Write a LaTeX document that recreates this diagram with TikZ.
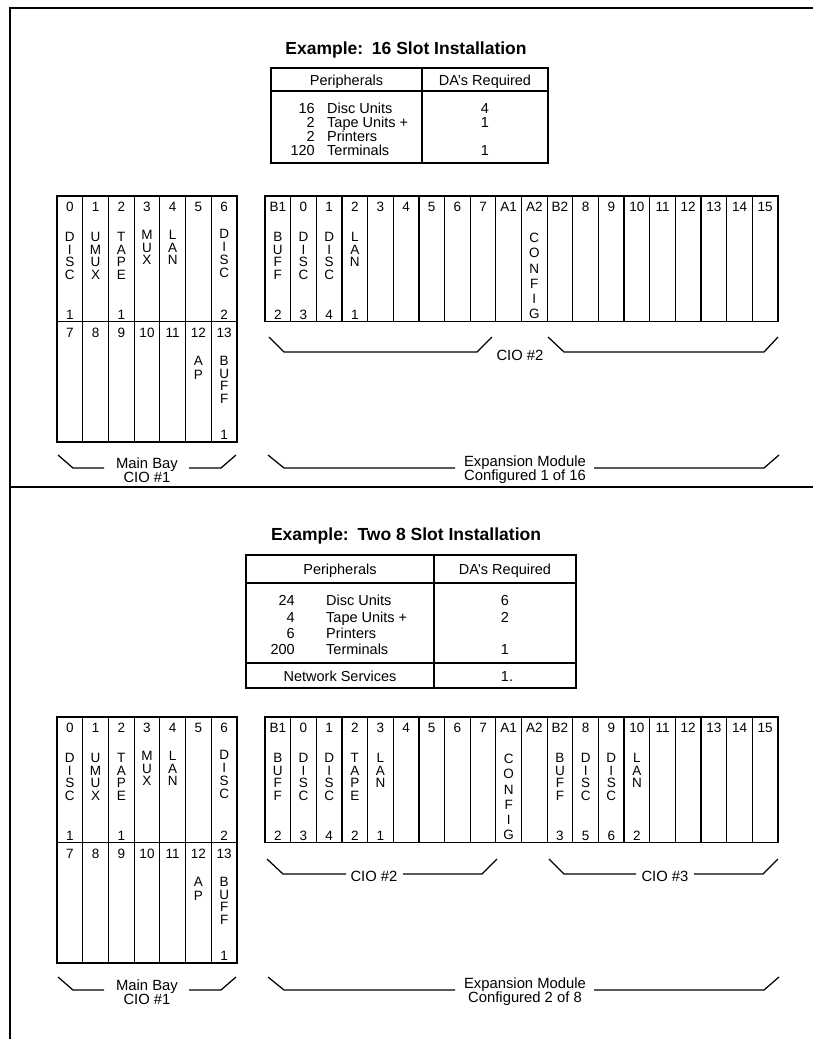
\documentclass[tikz,border=0pt]{standalone}
\usepackage{fontspec}
\setmainfont{Liberation Sans}
\newcommand\vword[5]{\foreach \l [count=\k from 0] in {#5} {\node[cell] (#1-\k) at (#2,{#3+\k*#4}) {\l};}}
\newcommand\mainbay[2]{%
  \draw[ln] (57,196+#2) rectangle (237,442+#2);
  \draw[ln] (57,321.7+#2) -- (237,321.7+#2);
  \foreach \i in {1,...,6} {\draw[ln] ({57+25.714*\i},196+#2) -- ({57+25.714*\i},442+#2);}
  \foreach \t [count=\i from 0] in {0,...,6} {\node[cell] (#1t\i) at ({69.86+25.714*\i},207+#2) {\t};}
  \foreach \t [count=\i from 0] in {7,...,13} {\node[cell] (#1u\i) at ({69.86+25.714*\i},333+#2) {\t};}
  \vword{#1a}{69.86}{237+#2}{12.6}{D,I,S,C}
  \node[cell] (#1a1) at (69.86,315+#2) {1};
  \vword{#1b}{95.57}{237+#2}{12.6}{U,M,U,X}
  \vword{#1c}{121.29}{237+#2}{12.6}{T,A,P,E}
  \node[cell] (#1c1) at (121.29,315+#2) {1};
  \vword{#1d}{147.0}{235+#2}{12.6}{M,U,X}
  \vword{#1e}{172.71}{235+#2}{12.6}{L,A,N}
  \vword{#1f}{224.14}{234+#2}{12.8}{D,I,S,C}
  \node[cell] (#1f1) at (224.14,315+#2) {2};
  \vword{#1g}{198.43}{361+#2}{13.5}{A,P}
  \vword{#1h}{224.14}{361+#2}{12.6}{B,U,F,F}
  \node[cell] (#1h1) at (224.14,435+#2) {1};
}
\newcommand\expbox[2]{%
  \draw[ln] (265,196+#2) rectangle (778,321.7+#2);
  \foreach \i in {1,...,19} {\draw[ln] ({265+25.65*\i},196+#2) -- ({265+25.65*\i},321.7+#2);}
  \foreach \t [count=\i from 0] in {B1,0,1,2,3,4,5,6,7,A1,A2,B2,8,9,10,11,12,13,14,15}
    {\node[cell] (#1t\i) at ({277.83+25.65*\i},207+#2) {\t};}
}
\begin{document}
\begin{tikzpicture}[x=1pt,y=-1pt,
  ln/.style={line width=1.25pt},
  cell/.style={inner sep=0pt, font=\fontsize{13.5}{14}\selectfont},
  tx/.style={inner sep=0pt, font=\fontsize{14.5}{15}\selectfont},
  lbl/.style={inner sep=0pt, align=center, font=\fontsize{14.8}{14}\selectfont},
  ttl/.style={inner sep=0pt, font=\bfseries\fontsize{17.5}{20}\selectfont}]
\useasboundingbox (0,0) rectangle (813,1039);
\fill[white] (0,0) rectangle (813,1039);
% frame
\draw[ln] (10,1039) -- (10,8) -- (813,8);
\draw[ln] (10,487) -- (813,487);

% ================= TOP HALF =================
\node[ttl] (title1) at (406,50) {Example:\enspace 16 Slot Installation};
\draw[ln] (271,68) rectangle (548,163);
\draw[ln] (271,91) -- (548,91);
\draw[ln] (422,68) -- (422,163);
\node[tx, anchor=base] (t1h1) at (346.5,85) {Peripherals};
\node[tx, anchor=base] (t1h2) at (485,85) {DA's Required};
\foreach \n/\w/\d/\y [count=\i] in {16/Disc Units/4/113, 2/Tape Units +/1/127, 2/Printers//141, 120/Terminals/1/155}{
  \node[tx, anchor=base east] (t1n\i) at (315,\y) {\n};
  \node[tx, anchor=base west] (t1w\i) at (327,\y) {\w};
  \node[tx, anchor=base] (t1d\i) at (485,\y) {\d};
}
\mainbay{mbA}{0}
\expbox{exA}{0}
\vword{exAb1}{277.83}{237}{12.6}{B,U,F,F}
\node[cell] (exAb1n) at (277.83,315) {2};
\vword{exAd0}{303.48}{237}{12.6}{D,I,S,C}
\node[cell] (exAd0n) at (303.48,315) {3};
\vword{exAd1}{329.13}{237}{12.6}{D,I,S,C}
\node[cell] (exAd1n) at (329.13,315) {4};
\vword{exAl2}{354.78}{237}{12.6}{L,A,N}
\node[cell] (exAl2n) at (354.78,315) {1};
\vword{exAcf}{534.33}{238}{15.2}{C,O,N,F,I,G}
% brackets
\draw[ln] (269,337) -- (284,352) -- (477,352) -- (492,337);
\node[lbl] (cio2a) at (520,355) {CIO \#2};
\draw[ln] (548,337) -- (564,352) -- (764,352) -- (778,337);
\draw[ln] (58,455) -- (73,468) -- (104,468);
\node[lbl] (mbAl) at (147,470) {Main Bay\\CIO \#1};
\draw[ln] (189,468) -- (221,468) -- (236,455);
\draw[ln] (268,455) -- (284,468) -- (455,468);
\node[lbl] (exAl) at (525,470) {Expansion Module\\Configured 1 of 16};
\draw[ln] (594,468) -- (764,468) -- (779,455);

% ================= BOTTOM HALF =================
\node[ttl] (title2) at (406,536) {Example:\enspace Two 8 Slot Installation};
\draw[ln] (246,555) rectangle (576,688);
\draw[ln] (246,583) -- (576,583);
\draw[ln] (246,663) -- (576,663);
\draw[ln] (434,555) -- (434,688);
\node[tx, anchor=base] (t2h1) at (340,574) {Peripherals};
\node[tx, anchor=base] (t2h2) at (505,574) {DA's Required};
\foreach \n/\w/\d/\y [count=\i] in {24/Disc Units/6/605, 4/Tape Units +/2/622, 6/Printers//638, 200/Terminals/1/654}{
  \node[tx, anchor=base east] (t2n\i) at (295,\y) {\n};
  \node[tx, anchor=base west] (t2w\i) at (326,\y) {\w};
  \node[tx, anchor=base] (t2d\i) at (505,\y) {\d};
}
\node[tx, anchor=base] (t2ns) at (340,681) {Network Services};
\node[tx, anchor=base] (t2nd) at (507,681) {1.};
\mainbay{mbB}{521}
\expbox{exB}{521}
\vword{exBb1}{277.83}{758}{12.6}{B,U,F,F}
\node[cell] (exBb1n) at (277.83,836) {2};
\vword{exBd0}{303.48}{758}{12.6}{D,I,S,C}
\node[cell] (exBd0n) at (303.48,836) {3};
\vword{exBd1}{329.13}{758}{12.6}{D,I,S,C}
\node[cell] (exBd1n) at (329.13,836) {4};
\vword{exBtp}{354.78}{758}{12.6}{T,A,P,E}
\node[cell] (exBtpn) at (354.78,836) {2};
\vword{exBl3}{380.43}{758}{12.6}{L,A,N}
\node[cell] (exBl3n) at (380.43,836) {1};
\vword{exBcf}{508.68}{759}{15.2}{C,O,N,F,I,G}
\vword{exBb2}{559.98}{758}{12.6}{B,U,F,F}
\node[cell] (exBb2n) at (559.98,836) {3};
\vword{exBd8}{585.63}{758}{12.6}{D,I,S,C}
\node[cell] (exBd8n) at (585.63,836) {5};
\vword{exBd9}{611.28}{758}{12.6}{D,I,S,C}
\node[cell] (exBd9n) at (611.28,836) {6};
\vword{exBl10}{636.93}{758}{12.6}{L,A,N}
\node[cell] (exBl10n) at (636.93,836) {2};
% brackets
\draw[ln] (267,859) -- (283,874) -- (346,874);
\node[lbl] (cio2b) at (374,876) {CIO \#2};
\draw[ln] (403,874) -- (482,874) -- (497,859);
\draw[ln] (549,859) -- (564,874) -- (636,874);
\node[lbl] (cio3b) at (665,876) {CIO \#3};
\draw[ln] (694,874) -- (763,874) -- (778,859);
\draw[ln] (58,977) -- (73,990) -- (104,990);
\node[lbl] (mbBl) at (147,992) {Main Bay\\CIO \#1};
\draw[ln] (189,990) -- (221,990) -- (236,977);
\draw[ln] (268,977) -- (284,990) -- (455,990);
\node[lbl] (exBl) at (525,992) {Expansion Module\\Configured 2 of 8};
\draw[ln] (594,990) -- (764,990) -- (779,977);
\end{tikzpicture}
\end{document}
